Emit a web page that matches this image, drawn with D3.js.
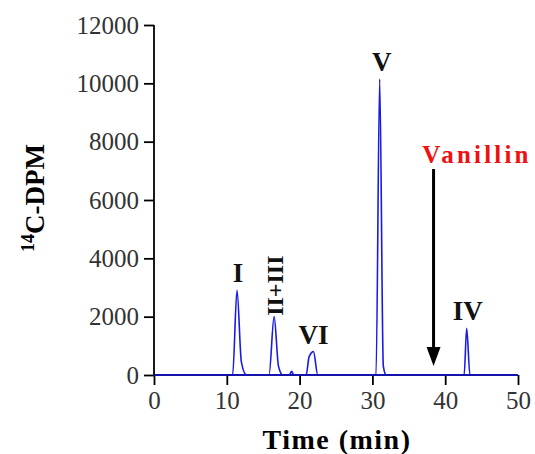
<!DOCTYPE html>
<html><head><meta charset="utf-8">
<script src="https://cdn.jsdelivr.net/npm/d3@7"></script>
<style>
html,body{margin:0;padding:0;background:#fff;}
svg{display:block;}
</style></head>
<body>
<script>
// ---- data ----
const timeMin = [0, 10.8, 11.4, 12.0, 12.7, 15.8, 16.5, 17.1, 17.7, 18.6, 18.9, 19.2, 20.9, 21.3, 21.9, 22.5, 30.5, 31.0, 31.5, 31.9, 42.6, 42.95, 43.4, 50];
const dpm =     [0, 0,    2900, 450,  0,    0,    2000, 300,  0,    0,    130,  0,    0,    620,  800,  0,    0,    10150, 300, 0,    0,    1600,  0,    0];
const xTicks = [0, 10, 20, 30, 40, 50];
const yTicks = [0, 2000, 4000, 6000, 8000, 10000, 12000];
const peakLabels = ["I", "II+III", "VI", "V", "IV"];
const peakTimes = [11.4, 16.5, 21.9, 31.0, 42.95];
const peakValues = [2900, 2000, 800, 10150, 1600];
const vanillinTime = 38.4;

const W = 535, H = 454;
const margin = {left: 154, right: 17, top: 25, bottom: 79};
const svg = d3.select("body").append("svg").attr("width", W).attr("height", H);

const x = d3.scaleLinear().domain([0, 50]).range([margin.left, W - margin.right]);
const y = d3.scaleLinear().domain([0, 12000]).range([H - margin.bottom, margin.top]);

const serif = "'Liberation Serif', 'Times New Roman', serif";

// line
const pts = timeMin.map((t, i) => [t, dpm[i]]);
svg.append("path")
  .datum(pts)
  .attr("fill", "none")
  .attr("stroke", "#1a1ae6")
  .attr("stroke-width", 1.6)
  .attr("stroke-linejoin", "round")
  .attr("d", d3.line().curve(d3.curveMonotoneX).x(d => x(d[0])).y(d => y(d[1])));

// axes
const xAxis = svg.append("g").attr("transform", `translate(0,${y(0)})`)
  .call(d3.axisBottom(x).tickValues(xTicks).tickSize(10).tickPadding(6).tickFormat(d3.format("d")));
const yAxis = svg.append("g").attr("transform", `translate(${x(0)},0)`)
  .call(d3.axisLeft(y).tickValues(yTicks).tickSize(10).tickPadding(5).tickFormat(d3.format("d")));
[xAxis, yAxis].forEach(g => {
  g.select(".domain").attr("stroke", "#000").attr("stroke-width", 1.8);
  g.selectAll(".tick line").attr("stroke", "#000").attr("stroke-width", 1.8);
  g.selectAll(".tick text").attr("font-family", serif).attr("font-size", 25).attr("fill", "#333");
});
xAxis.select(".domain").attr("d", `M${x(0)},0H${x(50)}`);
yAxis.select(".domain").attr("d", `M0,${y(12000)}V${y(0)}`);
// baseline over axis in blue (as in ref)
svg.append("line").attr("x1", x(0)).attr("x2", x(50)).attr("y1", y(0)).attr("y2", y(0))
  .attr("stroke", "#1a1ae6").attr("stroke-width", 1.6);

// axis titles
svg.append("text")
  .attr("x", (x(0) + x(50)) / 2 + 1).attr("y", 449)
  .attr("text-anchor", "middle")
  .attr("font-family", serif).attr("font-weight", "bold").attr("font-size", 28)
  .attr("letter-spacing", 1.5)
  .text("Time (min)");

const yl = svg.append("text")
  .attr("transform", `translate(44,${198}) rotate(-90)`)
  .attr("text-anchor", "middle")
  .attr("font-family", serif).attr("font-weight", "bold").attr("font-size", 27);
yl.append("tspan").attr("font-size", 18).attr("dy", -10).text("14");
yl.append("tspan").attr("dy", 10).text("C-DPM");

// peak labels
const lab = svg.append("g").attr("font-family", serif).attr("font-weight", "bold").attr("font-size", 27).attr("fill", "#111");
peakLabels.forEach((l, i) => {
  const px = x(peakTimes[i]), py = y(peakValues[i]);
  if (l === "II+III") {
    lab.append("text")
      .attr("transform", `translate(${px + 9},${py - 31}) rotate(-90)`)
      .attr("text-anchor", "middle")
      .attr("font-size", 24)
      .text(l);
  } else {
    lab.append("text").attr("x", px + (l === "V" ? 2 : (l === "VI" ? 0 : 1))).attr("y", py - 8)
      .attr("text-anchor", "middle").text(l);
  }
});

// vanillin arrow
const ax = x(vanillinTime);
svg.append("text").attr("x", 477).attr("y", 163)
  .attr("text-anchor", "middle")
  .attr("font-family", serif).attr("font-weight", "bold").attr("font-size", 25)
  .attr("letter-spacing", 3.2)
  .attr("fill", "#f01010").text("Vanillin");
svg.append("line").attr("x1", ax).attr("x2", ax).attr("y1", 169).attr("y2", 350)
  .attr("stroke", "#000").attr("stroke-width", 3);
svg.append("path")
  .attr("d", `M${ax - 7},${347}L${ax + 7},${347}L${ax},${366}Z`)
  .attr("fill", "#000");
</script>
</body></html>
